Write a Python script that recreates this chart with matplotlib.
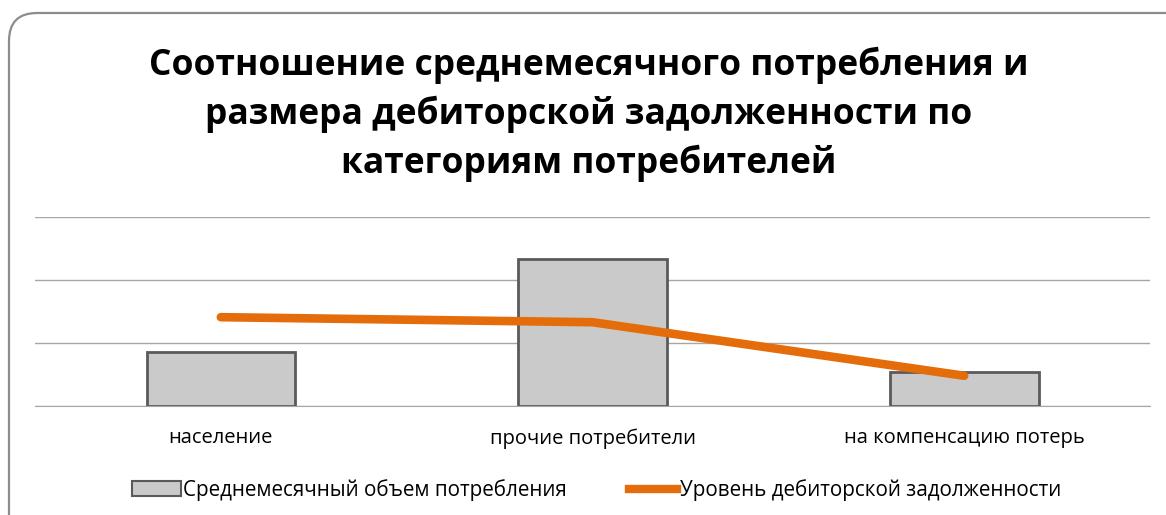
import numpy as np
import matplotlib.pyplot as plt
from matplotlib.patches import FancyBboxPatch, Patch
from matplotlib.lines import Line2D
from matplotlib.transforms import IdentityTransform

# данные
categories = ['население', 'прочие потребители', 'на компенсацию потерь']
consumption = [0.86, 2.33, 0.54]
debt = [1.41, 1.33, 0.48]
title = 'Соотношение среднемесячного потребления и\nразмера дебиторской задолженности по\nкатегориям потребителей'
bar_label = 'Среднемесячный объем потребления'
line_label = 'Уровень дебиторской задолженности'

plt.rcParams['font.family'] = ['Open Sans', 'DejaVu Sans']

fig = plt.figure(figsize=(11.66, 5.15), dpi=100)

# рамка со скруглёнными углами (в пикселях)
border = FancyBboxPatch((9, -60), 1300, 562,
                        boxstyle='round,pad=0,rounding_size=28',
                        transform=IdentityTransform(), facecolor='none',
                        edgecolor='#8c8c8c', linewidth=1.6, zorder=-1)
fig.patches.append(border)

fig.text(0.505, 0.91, title, ha='center', va='top', fontsize=25.5,
         fontweight='bold', linespacing=1.42)

ax = fig.add_axes([35 / 1166, 1 - 406 / 515, 1115 / 1166, 189 / 515])
x = np.arange(len(categories))

ax.bar(x, consumption, width=0.4, color='#cacaca', edgecolor='#5a5a5a',
       linewidth=2, zorder=2)
ax.plot(x, debt, color='#e46c0a', linewidth=6.2, solid_capstyle='round',
        solid_joinstyle='round', zorder=3)

ax.set_ylim(0, 3)
ax.set_xlim(-0.5, len(categories) - 0.5)
ax.set_yticks([0, 1, 2, 3])
ax.yaxis.grid(True, color='#a6a6a6', linewidth=1)
ax.set_axisbelow(True)
ax.tick_params(axis='y', left=False, labelleft=False)
ax.tick_params(axis='x', length=0, pad=16, labelsize=14.5)
ax.set_xticks(x)
ax.set_xticklabels(categories)
for s in ['top', 'right', 'left']:
    ax.spines[s].set_visible(False)
ax.spines['bottom'].set_color('#a6a6a6')

handles = [Patch(facecolor='#cacaca', edgecolor='#5a5a5a', linewidth=1.5),
           Line2D([0], [0], color='#e46c0a', linewidth=6)]
fig.legend(handles, [bar_label, line_label], loc='center',
           bbox_to_anchor=(0.5116, 1 - 490 / 515), ncol=2, frameon=False,
           fontsize=14.9, handlelength=2.35, handletextpad=0.1, columnspacing=3.0)

fig.savefig('out.png', dpi=100)
